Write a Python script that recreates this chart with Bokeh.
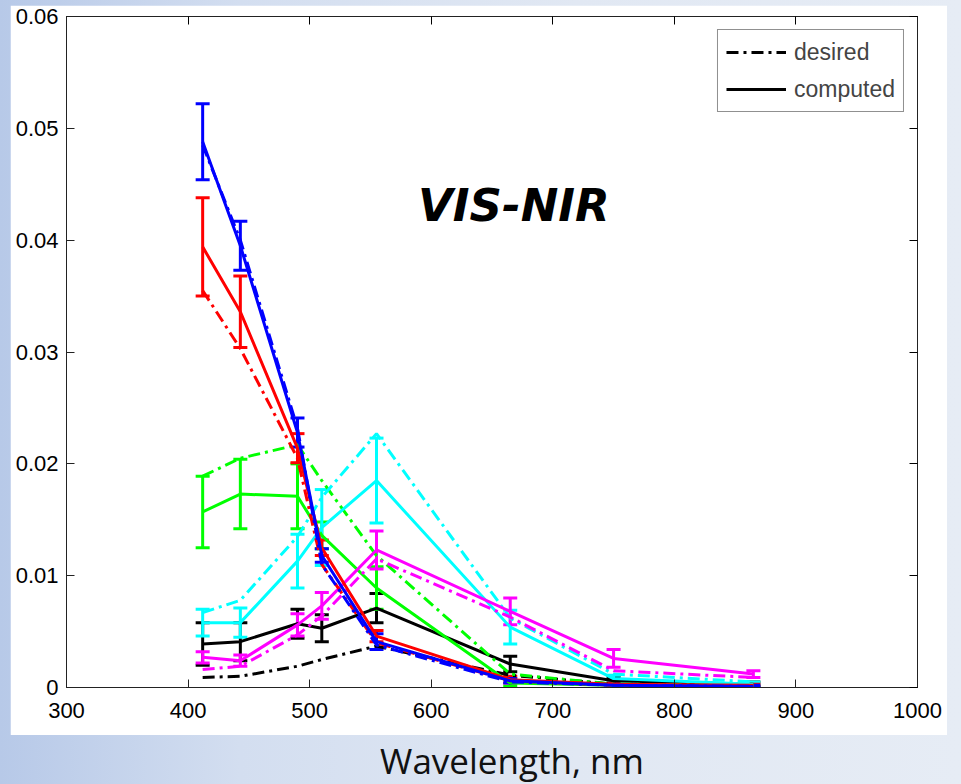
from bokeh.plotting import figure
from bokeh.models import (Range1d, LinearAxis, FixedTicker, Whisker, TeeHead,
                          ColumnDataSource, Label, Legend, LegendItem, Div, Column)
from bokeh.embed import file_html
from bokeh.resources import INLINE

# ---------------- data ----------------
wavelength = [412, 443, 490, 510, 555, 665, 750, 865]

blue_computed = [0.0488, 0.0395, 0.0228, 0.0118, 0.0041, 0.0006, 0.0002, 0.0001]
blue_err      = [0.0034, 0.0022, 0.0013, 0.0006, 0.0007, 0.0002, 0.0001, 0.0001]
blue_desired  = [0.0485, 0.0400, 0.0232, 0.0110, 0.0038, 0.0005, 0.0002, 0.0001]

red_computed = [0.0394, 0.0336, 0.0214, 0.0125, 0.0046, 0.0007, 0.0003, 0.0002]
red_err      = [0.0044, 0.0032, 0.0013, 0.0007, 0.0005, 0.0003, 0.0001, 0.0001]
red_desired  = [0.0355, 0.0303, 0.0205, 0.0110, 0.0040, 0.0006, 0.0002, 0.0001]

green_computed = [0.0157, 0.0173, 0.0171, 0.0136, 0.0089, 0.0004, 0.0002, 0.0001]
green_err      = [0.0032, 0.0031, 0.0029, 0.0012, 0.0019, 0.0003, 0.0001, 0.0001]
green_desired  = [0.0189, 0.0205, 0.0217, 0.0185, 0.0118, 0.0012, 0.0003, 0.0002]

cyan_computed = [0.0058, 0.0058, 0.0113, 0.0143, 0.0185, 0.0054, 0.0008, 0.0003]
cyan_err      = [0.0012, 0.0013, 0.0024, 0.0034, 0.0038, 0.0015, 0.0003, 0.0002]
cyan_desired  = [0.0067, 0.0078, 0.0135, 0.0170, 0.0227, 0.0062, 0.0012, 0.0005]

magenta_computed = [0.0027, 0.0024, 0.0056, 0.0073, 0.0123, 0.0068, 0.0026, 0.0012]
magenta_err      = [0.0005, 0.0005, 0.0010, 0.0012, 0.0017, 0.0012, 0.0008, 0.0003]
magenta_desired  = [0.0016, 0.0019, 0.0047, 0.0064, 0.0115, 0.0063, 0.0015, 0.0009]

black_computed = [0.0039, 0.0041, 0.0057, 0.0053, 0.0071, 0.0021, 0.0006, 0.0003]
black_err      = [0.0019, 0.0017, 0.0013, 0.0012, 0.0013, 0.0007, 0.0003, 0.0002]
black_desired  = [0.0009, 0.0010, 0.0019, 0.0025, 0.0037, 0.0011, 0.0003, 0.0002]

x_ticks = [300, 400, 500, 600, 700, 800, 900, 1000]
y_ticks = [0, 0.01, 0.02, 0.03, 0.04, 0.05, 0.06]
y_tick_labels = ["0", "0.01", "0.02", "0.03", "0.04", "0.05", "0.06"]

legend_labels = ["desired", "computed"]
title_text = "VIS-NIR"
title_x, title_y = 668, 0.0431
x_label = "Wavelength, nm"

series = [
    ("#000000", black_computed, black_err, black_desired),
    ("#00ff00", green_computed, green_err, green_desired),
    ("#00ffff", cyan_computed, cyan_err, cyan_desired),
    ("#ff00ff", magenta_computed, magenta_err, magenta_desired),
    ("#ff0000", red_computed, red_err, red_desired),
    ("#0000ff", blue_computed, blue_err, blue_desired),
]

DASH = "12 5 3 5"
TICK_FONT = "Liberation Sans"

p = figure(width=937, height=730, output_backend="svg", toolbar_location=None,
           x_range=Range1d(300, 1000), y_range=Range1d(0, 0.06),
           min_border_left=56, min_border_right=30, min_border_top=11,
           min_border_bottom=48, margin=(5, 14, 0, 10))
p.background_fill_color = "white"
p.border_fill_color = "white"
p.outline_line_color = "#222222"
p.outline_line_width = 1
p.xgrid.visible = False
p.ygrid.visible = False

p.xaxis.ticker = FixedTicker(ticks=x_ticks)
p.yaxis.ticker = FixedTicker(ticks=y_ticks)
p.yaxis.major_label_overrides = {t: l for t, l in zip(y_ticks, y_tick_labels)}

for ax in (p.xaxis[0], p.yaxis[0]):
    ax.major_tick_in = 8
    ax.major_tick_out = 0
    ax.minor_tick_line_color = None
    ax.axis_line_color = "#222222"
    ax.major_tick_line_color = "#222222"
    ax.major_label_text_font = TICK_FONT
    ax.major_label_text_font_size = "22px"
    ax.major_label_text_color = "#000000"
p.xaxis.major_label_standoff = 15
p.yaxis.major_label_standoff = 8

top_axis = LinearAxis(ticker=FixedTicker(ticks=x_ticks), major_tick_in=8, major_tick_out=0,
                      minor_tick_line_color=None, major_label_standoff=0,
                      major_label_overrides={t: "" for t in x_ticks},
                      axis_line_color="#222222")
right_axis = LinearAxis(ticker=FixedTicker(ticks=y_ticks), major_tick_in=8, major_tick_out=0,
                        minor_tick_line_color=None, major_label_standoff=0,
                        major_label_overrides={t: "" for t in y_ticks},
                        axis_line_color="#222222")
p.add_layout(top_axis, "above")
p.add_layout(right_axis, "right")

legend_renderers = {}
for color, comp, err, des in series:
    src = ColumnDataSource(dict(
        x=wavelength, comp=comp, des=des,
        up=[c + e for c, e in zip(comp, err)],
        lo=[c - e for c, e in zip(comp, err)],
    ))
    r_d = p.line("x", "des", source=src, line_color=color, line_width=3, line_dash=DASH)
    r_c = p.line("x", "comp", source=src, line_color=color, line_width=3)
    if color == "#000000":
        legend_renderers["desired"] = r_d
        legend_renderers["computed"] = r_c
    w = Whisker(base="x", upper="up", lower="lo", source=src,
                line_color=color, line_width=3,
                upper_head=TeeHead(size=14, line_color=color, line_width=3),
                lower_head=TeeHead(size=14, line_color=color, line_width=3))
    p.add_layout(w)

legend = Legend(items=[LegendItem(label=lab, renderers=[legend_renderers[lab]])
                       for lab in legend_labels],
                location="top_right", margin=13, padding=8, spacing=9,
                label_height=28, glyph_height=28, glyph_width=60, label_standoff=8,
                label_text_font=TICK_FONT, label_text_font_size="23px",
                border_line_color="#222222", border_line_width=1,
                background_fill_color="white", background_fill_alpha=1.0)
p.add_layout(legend)

p.add_layout(Label(x=title_x, y=title_y, text=title_text, text_align="center",
                   text_baseline="middle", text_font="DejaVu Sans",
                   text_font_style="bold italic", text_font_size="45px",
                   text_color="black"))

label_div = Div(text=x_label, width=400, height=49, margin=(0, 0, 0, 312),
                styles={"font-family": "Open Sans", "font-size": "35px",
                        "text-align": "center", "color": "#111111",
                        "line-height": "52px", "width": "400px"})

page = Column(children=[p, label_div], width=961, height=784, spacing=0,
              styles={"background": "linear-gradient(to right, #b7c9e8 0%, #d3def0 25%, #e1e8f3 60%, #e6ecf5 100%)",
                      "width": "961px", "height": "784px"})

open("out.html", "w").write(file_html(page, INLINE))
